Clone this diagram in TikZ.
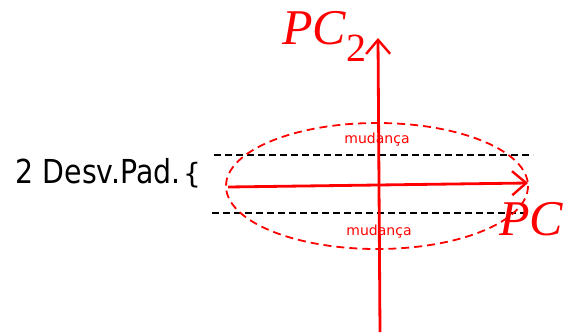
\documentclass[tikz,border=0pt]{standalone}
\usepackage{fontspec}
\setmainfont{Liberation Serif}
\newfontfamily\comicfont{DejaVu Sans}
\usetikzlibrary{arrows.meta}
\definecolor{pcred}{RGB}{255,0,0}
\tikzset{
  axis/.style={draw=pcred, line width=2.8pt, -{Straight Barb[length=14pt,width=24pt,line width=2.4pt]}},
  sdline/.style={draw=black, line width=1.9pt, dash pattern=on 7pt off 4pt},
  spread/.style={draw=pcred, line width=1.8pt, dash pattern=on 8pt off 5pt},
  pclabel/.style={text=pcred, font=\fontsize{50}{52}\selectfont\itshape, inner sep=0pt},
  small/.style={text=pcred, font=\comicfont\fontsize{14}{15}\selectfont, inner sep=0pt},
  big/.style={text=black, font=\comicfont\fontsize{33}{35}\selectfont, inner sep=0pt}
}
\begin{document}
\begin{tikzpicture}[x=1pt,y=-1pt]
\useasboundingbox (0,0) rectangle (564,332);
% coordinates
\coordinate (vb) at (380,332);
\coordinate (vt) at (378,38);
\coordinate (hl) at (228,187);
\coordinate (hr) at (528,183);
\coordinate (t1) at (214,155);
\coordinate (t2) at (533,155);
\coordinate (b1) at (212,213);
\coordinate (b2) at (531,213);
\coordinate (ec) at (377,186);
% dashed SD lines
\draw[sdline] (t1) -- (t2);
\draw[sdline] (b1) -- (b2);
% ellipse
\draw[spread] (ec) ellipse [x radius=151, y radius=63];
% axes
\draw[axis] (vb) -- (vt);
\draw[axis] (hl) -- (hr);
% labels
\node[pclabel, anchor=base west] (pc2) at (282,44) {PC\textsubscript{\upshape\fontsize{40}{40}\selectfont 2}};
\node[pclabel, anchor=base west] (pc) at (499,235) {PC};
\node[small] (m1) at (377,140) {mudança};
\node[small] (m2) at (379,232) {mudança};
\node[big, anchor=base east, xscale=0.86] (sd) at (181,183) {2 Desv.Pad.};
\node[big, anchor=base west, font=\comicfont\fontsize{28}{30}\selectfont] (br) at (183,183) {\{};
\end{tikzpicture}
\end{document}
